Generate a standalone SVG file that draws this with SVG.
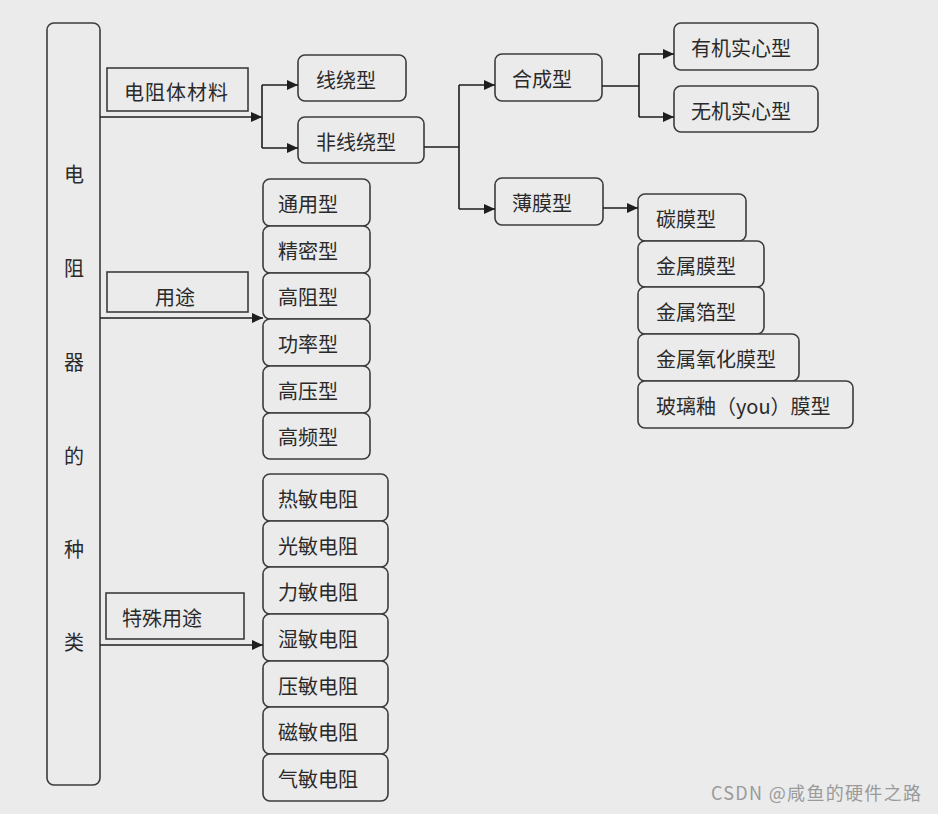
<svg xmlns="http://www.w3.org/2000/svg" width="938" height="814" viewBox="0 0 938 814">
<defs>
<marker id="ah" markerUnits="userSpaceOnUse" markerWidth="11" markerHeight="10" refX="11" refY="5" orient="auto"><path d="M0,0 L11,5 L0,10 z" fill="#1e1e1e"/></marker>
<style>
.n rect{fill:#ebebeb;stroke:#3c3c3c;stroke-width:1.6}
.r rect{rx:7px;ry:7px}
text{font-family:"Noto Sans CJK SC","Noto Sans",sans-serif;font-size:20px;fill:#2a2a2a}
.c path{fill:none;stroke:#1e1e1e;stroke-width:1.6}
.a{marker-end:url(#ah)}
</style>
</defs>
<rect width="938" height="814" fill="#ebebeb"/>
<g id="root" class="n r"><rect x="47" y="23" width="53" height="762"/>
<text x="74" text-anchor="middle" font-size="19"><tspan x="74" y="182">电</tspan><tspan x="74" y="276">阻</tspan><tspan x="74" y="370">器</tspan><tspan x="74" y="464">的</tspan><tspan x="74" y="557">种</tspan><tspan x="74" y="650">类</tspan></text></g>
<g id="lbl-material" class="n"><rect x="107" y="68" width="141" height="43"/><text x="124" y="100" letter-spacing="1">电阻体材料</text></g>
<g id="lbl-use" class="n"><rect x="107" y="272" width="141" height="40"/><text x="175" y="305" text-anchor="middle">用途</text></g>
<g id="lbl-special" class="n"><rect x="106" y="593" width="138" height="46"/><text x="122" y="626">特殊用途</text></g>
<g id="wirewound" class="n r"><rect x="298" y="55" width="108" height="46"/><text x="316" y="88">线绕型</text></g>
<g id="nonwirewound" class="n r"><rect x="298" y="117" width="126" height="46"/><text x="316" y="150">非线绕型</text></g>
<g id="synthetic" class="n r"><rect x="495" y="54" width="107" height="47"/><text x="512" y="87">合成型</text></g>
<g id="film" class="n r"><rect x="495" y="178" width="108" height="47"/><text x="512" y="211">薄膜型</text></g>
<g id="organic" class="n r"><rect x="674" y="23" width="144" height="47"/><text x="691" y="56">有机实心型</text></g>
<g id="inorganic" class="n r"><rect x="674" y="86" width="144" height="46"/><text x="691" y="119">无机实心型</text></g>
<g id="carbon" class="n r"><rect x="638" y="194" width="108" height="47"/><text x="656" y="227">碳膜型</text></g>
<g id="metalfilm" class="n r"><rect x="638" y="241" width="126" height="46"/><text x="656" y="274">金属膜型</text></g>
<g id="metalfoil" class="n r"><rect x="638" y="287" width="126" height="47"/><text x="656" y="320">金属箔型</text></g>
<g id="metaloxide" class="n r"><rect x="638" y="334" width="161" height="47"/><text x="656" y="367">金属氧化膜型</text></g>
<g id="glaze" class="n r"><rect x="638" y="381" width="215" height="47"/><text x="656" y="414">玻璃釉（you）膜型</text></g>
<g id="general" class="n r"><rect x="263" y="179" width="107" height="47"/><text x="278" y="212">通用型</text></g>
<g id="precision" class="n r"><rect x="263" y="226" width="107" height="47"/><text x="278" y="259">精密型</text></g>
<g id="highres" class="n r"><rect x="263" y="273" width="107" height="46"/><text x="278" y="305">高阻型</text></g>
<g id="power" class="n r"><rect x="263" y="319" width="107" height="47"/><text x="278" y="352">功率型</text></g>
<g id="highvolt" class="n r"><rect x="263" y="366" width="107" height="47"/><text x="278" y="399">高压型</text></g>
<g id="highfreq" class="n r"><rect x="263" y="413" width="107" height="46"/><text x="278" y="445">高频型</text></g>
<g id="thermo" class="n r"><rect x="263" y="474" width="125" height="47"/><text x="278" y="507">热敏电阻</text></g>
<g id="photo" class="n r"><rect x="263" y="521" width="125" height="46"/><text x="278" y="554">光敏电阻</text></g>
<g id="force" class="n r"><rect x="263" y="567" width="125" height="47"/><text x="278" y="600">力敏电阻</text></g>
<g id="humid" class="n r"><rect x="263" y="614" width="125" height="47"/><text x="278" y="647">湿敏电阻</text></g>
<g id="varistor" class="n r"><rect x="263" y="661" width="125" height="46"/><text x="278" y="694">压敏电阻</text></g>
<g id="magnet" class="n r"><rect x="263" y="707" width="125" height="47"/><text x="278" y="740">磁敏电阻</text></g>
<g id="gas" class="n r"><rect x="263" y="754" width="125" height="47"/><text x="278" y="787">气敏电阻</text></g>
<g id="connectors" class="c">
<path class="a" d="M100,117 H262"/>
<path d="M262,85 V148"/>
<path class="a" d="M262,85 H298"/>
<path class="a" d="M262,148 H298"/>
<path class="a" d="M100,318 H263"/>
<path class="a" d="M100,645 H263"/>
<path d="M424,147 H459 M459,85 V209"/>
<path class="a" d="M459,85 H495"/>
<path class="a" d="M459,209 H495"/>
<path d="M602,86 H639 M639,54 V117"/>
<path class="a" d="M639,54 H674"/>
<path class="a" d="M639,117 H674"/>
<path class="a" d="M603,208 H638"/>
</g>
<text x="711" y="800" style="fill:#9a9a9a;font-size:18px" textLength="210">CSDN @咸鱼的硬件之路</text>
</svg>
